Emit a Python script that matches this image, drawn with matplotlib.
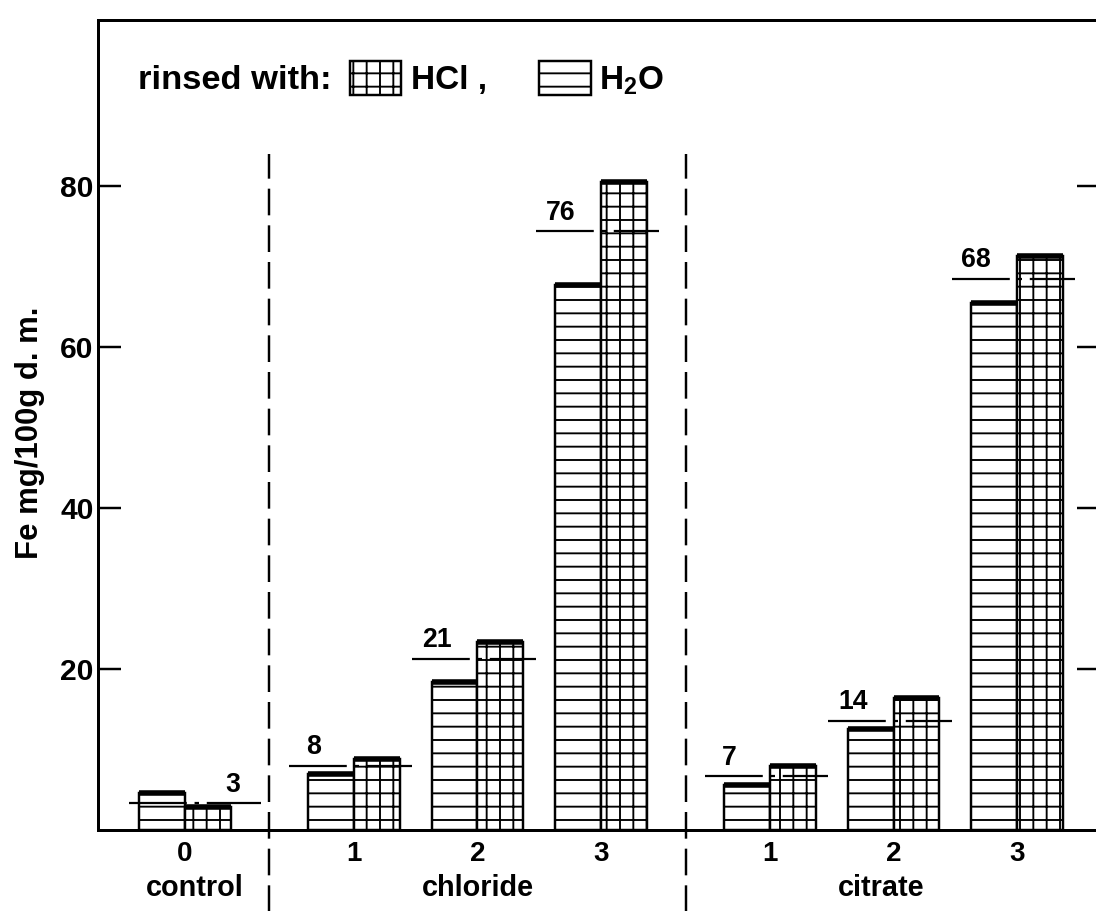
import numpy as np
import matplotlib
matplotlib.use('Agg')
import matplotlib.pyplot as plt
from matplotlib.patches import Rectangle
import matplotlib.transforms as mtransforms

# values (Fe mg/100g d.m.)
groups = ["control", "chloride", "citrate"]
cat_labels = ["0", "1", "2", "3", "1", "2", "3"]
h2o_values = [4.6, 7.0, 18.4, 67.7, 5.6, 12.6, 65.5]
hcl_values = [2.9, 8.8, 23.4, 80.5, 7.9, 16.4, 71.3]
mean_lines = [3.3, 8.0, 21.3, 74.4, 6.7, 13.6, 68.5]
mean_labels = ["3", "8", "21", "76", "7", "14", "68"]
yticks = [20, 40, 60, 80]

DPI = 80
plt.rcParams['font.family'] = ['Liberation Sans', 'DejaVu Sans']
plt.rcParams['font.weight'] = 'bold'
plt.rcParams['mathtext.fontset'] = 'custom'
plt.rcParams['mathtext.rm'] = 'Liberation Sans:bold'
plt.rcParams['mathtext.default'] = 'rm'
plt.rcParams['hatch.linewidth'] = 1.7
plt.rcParams['lines.scale_dashes'] = False

fig = plt.figure(figsize=(1096 / DPI, 911 / DPI), dpi=DPI)
ax = fig.add_axes([0.0894, 0.0889, 0.914, 0.889])

pos = np.r_[0, 1.37 + np.arange(3), 4.74 + np.arange(3)]
w = 0.37

ax.bar(pos - w / 2, h2o_values, w, facecolor='white', edgecolor='black',
       linewidth=2.2, hatch='-', zorder=2)
ax.bar(pos + w / 2, hcl_values, w, facecolor='white', edgecolor='black',
       linewidth=2.2, hatch='+', zorder=2)
# heavy tops of the bars
ax.hlines(h2o_values, pos - w, pos, color='black', linewidth=5, zorder=3)
ax.hlines(hcl_values, pos, pos + w, color='black', linewidth=5, zorder=3)

# mean lines with labels
for i, (p, m, lab) in enumerate(zip(pos, mean_lines, mean_labels)):
    if i == 0:
        x0, x1, dx = p - 0.45, p + 0.62, 0.39
    else:
        x0, x1, dx = p - 0.53, p + 0.47, -0.33
    ax.plot([x0, x1], [m, m], color='black', linewidth=2.0,
            linestyle=(0, (52, 7, 4, 7)), zorder=4)
    ax.annotate(lab, (p + dx, m), xytext=(0, 5), textcoords='offset points',
                ha='center', va='bottom', fontsize=24, fontweight='bold')

# dashed separators between groups
for sx in [0.68, 4.06]:
    ax.plot([sx, sx], [-10.5, 84], color='black', linewidth=2.2,
            linestyle=(0, (24, 9)), clip_on=False, zorder=1)

ax.set_xlim(-0.704, 7.41)
ax.set_ylim(0, 100.6)

ax.set_yticks(yticks)
ax.set_yticklabels([str(t) for t in yticks], fontsize=27, fontweight='bold')
ax.tick_params(axis='y', direction='in', length=21, width=2.2, pad=4,
               right=True)
ax.set_xticks(pos)
ax.set_xticklabels(cat_labels, fontsize=25, fontweight='bold')
ax.tick_params(axis='x', length=0, pad=10)
for s in ax.spines.values():
    s.set_linewidth(2.7)

# group names under the categories
trans = mtransforms.blended_transform_factory(ax.transData, ax.transAxes)
group_x = [pos[0] + 0.08, pos[2], pos[5] - 0.1]
for g, gx in zip(groups, group_x):
    ax.text(gx, -0.071, g, transform=trans, ha='center', va='center',
            fontsize=26, fontweight='bold')

ax.text(-0.068, 0.49, "Fe mg/100g d. m.", transform=ax.transAxes,
        rotation=90, ha='center', va='center', fontsize=28, fontweight='bold')

# legend drawn by hand like the original
ax.text(0.04, 0.925, "rinsed with:", transform=ax.transAxes, ha='left',
        va='center', fontsize=31, fontweight='bold')
ax.add_patch(Rectangle((0.252, 0.907), 0.05, 0.043, transform=ax.transAxes,
                       facecolor='white', edgecolor='black', linewidth=2.2,
                       hatch='+', clip_on=False))
ax.text(0.312, 0.925, "HCl ,", transform=ax.transAxes, ha='left',
        va='center', fontsize=30, fontweight='bold')
ax.add_patch(Rectangle((0.44, 0.907), 0.052, 0.043, transform=ax.transAxes,
                       facecolor='white', edgecolor='black', linewidth=2.2,
                       hatch='-', clip_on=False))
ax.text(0.50, 0.925, "H$_2$O", transform=ax.transAxes, ha='left',
        va='center', fontsize=30, fontweight='bold')

fig.savefig('out.png', dpi=DPI)
